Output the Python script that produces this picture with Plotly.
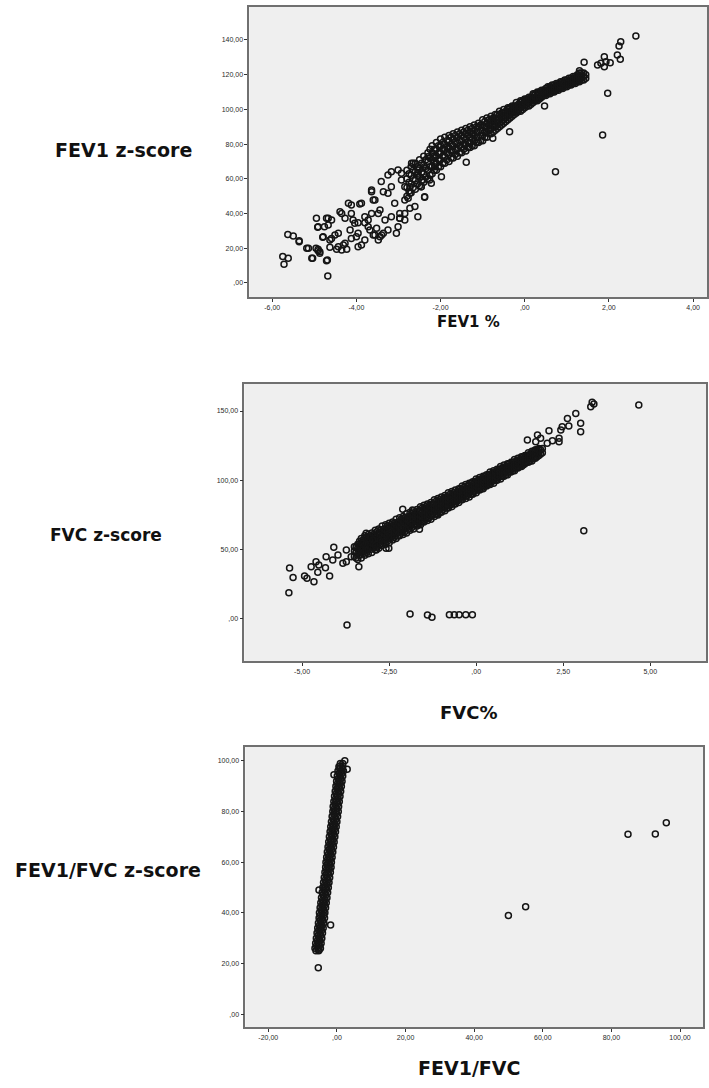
import plotly.graph_objects as go

# ---------------- data ----------------
# Panel 1: FEV1 z-score vs FEV1 %
fev1_sparse_x = [2.64, 2.28, 2.24, 2.20, 2.27, 1.89, 1.93, 1.73, 1.81, 1.89, 2.03, 1.41, 1.30, 1.97, 1.85, 0.73, 0.47, -0.36, -0.76, -1.39,
                 -2.38, -2.73, -2.97, -3.40, -4.68, -4.71, -5.04, -5.18, -5.36, -5.63, -5.50, -5.75, -5.62, -5.72, -4.95, -4.92, -4.76,
                 -4.96, -4.91, -4.87, -4.67, -4.80, -4.59, -4.63, -4.47, -4.31, -4.23, -4.43, -4.35, -4.12, -3.92, -4.27, -4.08, -3.96,
                 -3.80, -4.15, -4.00, -3.88, -3.80, -3.68, -3.56, -3.44, -3.96, -3.64, -3.60, -3.48, -3.41, -3.36, -3.25, -3.17, -3.01,
                 -2.93, -2.85, -2.73, -2.85, -2.65, -2.54, -2.46, -2.38, -2.26, -2.18,
                 -5.36, -5.06, -4.69, -5.14, -4.91, -4.87, -4.91, -4.71, -4.67, -4.59, -4.79, -4.63, -4.51, -4.43, -4.27, -4.35, -4.39,
                 -4.19, -4.12, -4.04, -3.96, -4.12, -3.88, -3.80, -3.72, -3.60, -3.48, -3.36, -3.64, -3.56, -3.44, -3.32, -3.25, -3.64,
                 -3.72, -3.52, -3.25, -3.09, -3.17, -2.97, -2.85, -3.01, -3.05, -3.17, -2.93, -2.85, -2.77, -2.61, -2.54, -2.73, -2.97,
                 -2.69, -2.54, -2.42, -2.38, -2.46, -2.30, -2.14, -1.98, -2.22]
fev1_sparse_y = [142.3, 139.0, 136.5, 131.4, 128.9, 130.4, 127.5, 125.6, 126.6, 124.6, 126.9, 127.1, 122.3, 109.3, 85.3, 64.1, 102.0, 87.2, 83.4, 69.5,
                 49.4, 43.0, 37.3, 27.7, 4.0, 12.8, 14.2, 20.0, 23.8, 28.0, 27.1, 15.2, 14.2, 10.8, 37.3, 32.1, 32.4,
                 20.0, 18.6, 17.1, 37.3, 26.3, 25.7, 20.6, 19.4, 21.9, 19.4, 28.6, 40.1, 44.9, 45.5, 37.3, 36.3, 34.7,
                 34.7, 30.5, 26.7, 21.9, 24.8, 30.5, 27.7, 26.7, 20.9, 52.6, 47.8, 40.1, 58.4, 52.6, 62.2, 55.5, 65.1,
                 59.3, 47.8, 55.5, 40.1, 69.0, 63.2, 55.5, 67.0, 59.3, 72.8,
                 24.4, 14.2, 13.3, 20.0, 19.4, 18.0, 32.4, 37.3, 33.4, 36.3, 26.7, 24.8, 27.7, 20.9, 22.9, 19.0, 41.1,
                 45.9, 40.1, 34.4, 28.6, 25.7, 45.9, 38.2, 32.4, 27.7, 24.8, 28.6, 53.6, 47.8, 42.1, 36.3, 30.5, 40.1,
                 36.3, 31.5, 51.7, 45.9, 38.2, 40.1, 36.3, 32.4, 28.6, 64.1, 63.2, 55.5, 48.8, 44.0, 38.2, 51.7, 37.3,
                 69.0, 65.1, 59.3, 49.7, 55.5, 72.8, 67.0, 61.2, 57.4]
# dense band: (x, [y values])
fev1_band = [
    (-2.80, [50, 55, 60, 65]), (-2.75, [53, 58, 63]), (-2.70, [52, 57, 62, 67]), (-2.65, [55, 60, 65]),
    (-2.60, [54, 59, 64, 69]), (-2.55, [57, 62, 67]), (-2.50, [56, 61, 66, 71]), (-2.45, [59, 64, 69]),
    (-2.40, [58, 63, 68, 73]), (-2.35, [61, 66, 71]), (-2.30, [60, 65, 70, 75]), (-2.25, [62, 67, 72, 77]),
    (-2.20, [63, 67, 71, 75, 79]), (-2.15, [65, 69, 73, 77]), (-2.10, [65, 69, 73, 77, 81]), (-2.05, [67, 71, 75, 79]),
    (-2.00, [67, 71, 75, 79, 83]), (-1.95, [69, 73, 77, 81]), (-1.90, [69, 73, 77, 80, 84]), (-1.85, [71, 75, 78, 82]),
    (-1.80, [70, 74, 78, 82, 85]), (-1.75, [72, 76, 80, 84]), (-1.70, [72, 76, 79, 83, 86]), (-1.65, [74, 77, 81, 85]),
    (-1.60, [73, 77, 81, 84, 87]), (-1.55, [75, 79, 82, 86]), (-1.50, [75, 78, 82, 85, 88]), (-1.45, [77, 80, 84, 87]),
    (-1.40, [76, 80, 83, 86, 89]), (-1.35, [78, 81, 85, 88]), (-1.30, [78, 81, 84, 87, 90]), (-1.25, [79, 83, 86, 89]),
    (-1.20, [79, 82, 85, 88, 91]), (-1.15, [81, 84, 87, 90]), (-1.10, [81, 84, 87, 90, 92]), (-1.05, [82, 85, 88, 91]),
    (-1.00, [82, 85, 88, 91, 94]), (-0.95, [84, 87, 90, 93]), (-0.90, [84, 87, 90, 92, 95]), (-0.85, [86, 88, 91, 94]),
    (-0.80, [86, 89, 91, 94, 96]), (-0.75, [87, 90, 93, 95]), (-0.70, [88, 90, 93, 95, 97]), (-0.65, [89, 92, 94, 97]),
    (-0.60, [90, 92, 95, 97, 99]), (-0.55, [91, 93, 96, 98]), (-0.50, [92, 94, 96, 98, 100]), (-0.45, [93, 95, 97, 99]),
    (-0.40, [94, 96, 98, 100, 101]), (-0.35, [95, 97, 99, 101]), (-0.30, [96, 98, 99, 101, 102]), (-0.25, [97, 99, 100, 102]),
    (-0.20, [98, 99, 101, 102, 104]), (-0.15, [99, 100, 102, 103]), (-0.10, [99, 101, 102, 104, 105]), (-0.05, [100, 102, 103, 105]),
    (0.00, [101, 102, 104, 105, 106]), (0.05, [102, 103, 105, 106]), (0.10, [102, 104, 105, 106, 107]), (0.15, [103, 105, 106, 107]),
    (0.20, [104, 105, 106, 108, 109]), (0.25, [105, 106, 107, 109]), (0.30, [105, 106, 108, 109, 110]), (0.35, [106, 107, 109, 110]),
    (0.40, [107, 108, 109, 110, 111]), (0.45, [108, 109, 110, 111]), (0.50, [108, 109, 110, 111, 112]), (0.55, [109, 110, 111, 113]),
    (0.60, [109, 110, 111, 112, 113]), (0.65, [110, 111, 112, 114]), (0.70, [110, 111, 112, 113, 114]), (0.75, [111, 112, 113, 115]),
    (0.80, [111, 112, 113, 114, 115]), (0.85, [112, 113, 114, 116]), (0.90, [112, 113, 114, 115, 116]), (0.95, [113, 114, 115, 117]),
    (1.00, [113, 114, 115, 116, 117]), (1.05, [114, 115, 116, 118]), (1.10, [114, 115, 116, 117, 118]), (1.15, [115, 116, 117, 119]),
    (1.20, [115, 116, 117, 118, 119]), (1.25, [116, 117, 118, 120]), (1.30, [116, 117, 118, 119, 121]), (1.35, [117, 119, 121]),
    (1.40, [117, 119, 121]), (1.45, [118, 120]),
]
fev1_xticks = [-6, -4, -2, 0, 2, 4]
fev1_xlabels = ["-6,00", "-4,00", "-2,00", ",00", "2,00", "4,00"]
fev1_yticks = [0, 20, 40, 60, 80, 100, 120, 140]
fev1_ylabels = [",00", "20,00", "40,00", "60,00", "80,00", "100,00", "120,00", "140,00"]

# Panel 2: FVC z-score vs FVC%
fvc_sparse_x = [3.33, 3.38, 3.29, 4.67, 2.86, 2.62, 3.00, 3.00, 2.47, 2.66, 2.43, 2.09, 2.38, 2.38, 2.19, 2.04,
                1.76, 1.85, 1.71, 1.47, 3.09, -3.71, -1.90, -1.40, -1.27, -0.77, -0.63, -0.49, -0.30, -0.11,
                -5.36, -5.26, -5.38, -4.93, -4.86, -4.66, -4.74, -4.60, -4.52, -4.55, -4.33, -4.21, -4.09,
                -4.31, -4.12, -3.97, -3.83, -3.73, -3.59, -3.45, -3.37, -3.73, -3.50, -3.26, -3.16, -2.97,
                -2.87, -2.59, -2.51, -2.11, -1.83, -1.63, -1.11]
fvc_sparse_y = [156.3, 155.0, 153.1, 154.3, 148.3, 144.7, 141.1, 135.1, 138.7, 139.2, 136.3, 135.8, 130.3, 127.9, 128.6, 126.7,
                132.7, 130.3, 127.9, 129.1, 63.7, -4.3, 3.6, 2.9, 1.2, 3.1, 3.1, 3.1, 3.1, 3.1,
                36.8, 30.0, 19.0, 31.0, 29.3, 26.9, 37.7, 41.3, 38.9, 33.7, 37.0, 31.0, 51.7,
                44.9, 42.5, 46.2, 40.2, 41.3, 44.9, 47.8, 37.7, 49.8, 52.1, 54.6, 61.8, 57.0,
                49.8, 51.0, 51.0, 79.1, 78.6, 64.7, 75.7]
fvc_band = [
    (-3.50, [45, 49]), (-3.45, [44, 48, 52]), (-3.40, [43, 47, 51, 54]), (-3.35, [46, 49, 53, 56]),
    (-3.30, [44, 48, 51, 55, 58]), (-3.25, [47, 50, 54, 57]), (-3.20, [46, 49, 53, 56, 60]), (-3.15, [48, 52, 55, 59]),
    (-3.10, [47, 51, 54, 58, 61]), (-3.05, [50, 53, 57, 60]), (-3.00, [48, 52, 55, 59, 62]), (-2.95, [51, 54, 58, 61]),
    (-2.90, [50, 53, 57, 60, 64]), (-2.85, [52, 56, 59, 63]), (-2.80, [51, 55, 58, 62, 65]), (-2.75, [54, 57, 61, 64]),
    (-2.70, [53, 56, 60, 63, 67]), (-2.65, [55, 58, 62, 65]), (-2.60, [54, 57, 61, 64, 68]), (-2.55, [56, 60, 63, 67]),
    (-2.50, [55, 59, 62, 66, 69]), (-2.45, [58, 61, 65, 68]), (-2.40, [57, 60, 64, 67, 70]), (-2.35, [59, 62, 66, 69]),
    (-2.30, [58, 62, 65, 68, 72]), (-2.25, [60, 64, 67, 70]), (-2.20, [60, 63, 66, 70, 73]), (-2.15, [62, 65, 68, 72]),
    (-2.10, [61, 64, 68, 71, 74]), (-2.05, [63, 67, 70, 73]), (-2.00, [62, 66, 69, 72, 76]), (-1.95, [65, 68, 71, 74]),
    (-1.90, [64, 67, 70, 74, 77]), (-1.85, [66, 69, 73, 76]), (-1.80, [65, 68, 72, 75, 78]), (-1.75, [68, 71, 74, 77]),
    (-1.70, [67, 70, 73, 76, 79]), (-1.65, [69, 72, 75, 78]), (-1.60, [68, 71, 74, 78, 81]), (-1.55, [70, 73, 77, 80]),
    (-1.50, [70, 73, 76, 79, 82]), (-1.45, [72, 75, 78, 81]), (-1.40, [71, 74, 77, 80, 83]), (-1.35, [73, 76, 79, 82]),
    (-1.30, [72, 75, 78, 81, 84]), (-1.25, [75, 78, 80, 83]), (-1.20, [74, 77, 80, 83, 86]), (-1.15, [76, 79, 82, 85]),
    (-1.10, [75, 78, 81, 84, 87]), (-1.05, [77, 80, 83, 86]), (-1.00, [77, 80, 82, 85, 88]), (-0.95, [79, 82, 84, 87]),
    (-0.90, [78, 81, 84, 87, 89]), (-0.85, [80, 83, 86, 88]), (-0.80, [80, 82, 85, 88, 91]), (-0.75, [82, 85, 87, 90]),
    (-0.70, [81, 84, 87, 89, 92]), (-0.65, [83, 86, 88, 91]), (-0.60, [83, 85, 88, 90, 93]), (-0.55, [85, 87, 90, 92]),
    (-0.50, [84, 87, 89, 92, 94]), (-0.45, [86, 89, 91, 94]), (-0.40, [86, 88, 91, 93, 96]), (-0.35, [88, 90, 92, 95]),
    (-0.30, [87, 90, 92, 94, 97]), (-0.25, [89, 91, 94, 96]), (-0.20, [88, 91, 93, 96, 98]), (-0.15, [90, 93, 95, 98]),
    (-0.10, [90, 92, 95, 97, 99]), (-0.05, [92, 94, 96, 99]), (0.00, [91, 94, 96, 98, 101]), (0.05, [93, 95, 98, 100]),
    (0.10, [93, 95, 97, 100, 102]), (0.15, [94, 97, 99, 101]), (0.20, [94, 96, 99, 101, 103]), (0.25, [96, 98, 100, 103]),
    (0.30, [96, 98, 100, 102, 104]), (0.35, [97, 99, 102, 104]), (0.40, [97, 99, 101, 104, 106]), (0.45, [99, 101, 103, 105]),
    (0.50, [98, 101, 103, 105, 107]), (0.55, [100, 102, 105, 106]), (0.60, [100, 102, 104, 106, 108]), (0.65, [102, 104, 106, 108]),
    (0.70, [101, 103, 105, 108, 110]), (0.75, [103, 105, 107, 109]), (0.80, [103, 105, 107, 109, 111]), (0.85, [104, 107, 108, 110]),
    (0.90, [104, 106, 108, 110, 112]), (0.95, [106, 108, 110, 112]), (1.00, [106, 108, 110, 111, 113]), (1.05, [107, 109, 111, 113]),
    (1.10, [107, 109, 111, 113, 115]), (1.15, [109, 111, 112, 114]), (1.20, [109, 110, 112, 114, 116]), (1.25, [110, 112, 114, 115]),
    (1.30, [110, 112, 114, 115, 117]), (1.35, [111, 113, 115, 117]), (1.40, [112, 113, 115, 117, 118]), (1.45, [113, 115, 116, 118]),
    (1.50, [113, 115, 116, 118, 120]), (1.55, [114, 116, 118, 119]), (1.60, [114, 116, 118, 119, 121]), (1.65, [116, 117, 119, 121]),
    (1.70, [116, 117, 119, 121, 122]), (1.75, [117, 119, 120, 122]), (1.80, [118, 120, 122, 123]), (1.85, [119, 122]),
    (1.90, [120, 123]),
]
fvc_xticks = [-5, -2.5, 0, 2.5, 5]
fvc_xlabels = ["-5,00", "-2,50", ",00", "2,50", "5,00"]
fvc_yticks = [0, 50, 100, 150]
fvc_ylabels = [",00", "50,00", "100,00", "150,00"]

# Panel 3: FEV1/FVC z-score vs FEV1/FVC
ratio_sparse_x = [-5.43, -5.23, -1.84, -5.23, 49.98, 55.0, 84.84, 92.8, 96.0, 0.58, 3.0, -0.87, 2.3]
ratio_sparse_y = [18.3, 25.3, 35.2, 49.0, 38.9, 42.4, 71.0, 71.1, 75.6, 97.7, 96.7, 94.5, 100.1]
# dense band: (y, [x values])
ratio_band = [
    (25, [-6.1, -5.3]), (26, [-6.4, -5.6, -4.8]), (27, [-5.9, -5.1]), (28, [-6.2, -5.4, -4.6]),
    (29, [-5.7, -4.9]), (30, [-6.0, -5.2, -4.4]), (31, [-5.5, -4.7]), (32, [-5.8, -5.0, -4.2]),
    (33, [-5.3, -4.5]), (34, [-5.6, -4.8, -4.0]), (35, [-5.1, -4.3]), (36, [-5.4, -4.6, -3.8]),
    (37, [-4.9, -4.1]), (38, [-5.2, -4.4, -3.6]), (39, [-4.8, -3.9]), (40, [-5.1, -4.3, -3.5]),
    (41, [-4.6, -3.8]), (42, [-4.9, -4.1, -3.3]), (43, [-4.4, -3.6]), (44, [-4.7, -3.9, -3.1]),
    (45, [-4.2, -3.4]), (46, [-4.5, -3.7, -2.9]), (47, [-4.0, -3.2]), (48, [-4.3, -3.5, -2.7]),
    (49, [-3.8, -3.0]), (50, [-4.1, -3.3, -2.5]), (51, [-3.6, -2.8]), (52, [-3.9, -3.1, -2.3]),
    (53, [-3.4, -2.6]), (54, [-3.7, -2.9, -2.1]), (55, [-3.2, -2.4]), (56, [-3.5, -2.7, -1.9]),
    (57, [-3.0, -2.2]), (58, [-3.3, -2.5, -1.7]), (59, [-2.9, -2.0]), (60, [-3.2, -2.4, -1.6]),
    (61, [-2.7, -1.9]), (62, [-3.0, -2.2, -1.4]), (63, [-2.5, -1.7]), (64, [-2.8, -2.0, -1.2]),
    (65, [-2.3, -1.5]), (66, [-2.6, -1.8, -1.0]), (67, [-2.1, -1.3]), (68, [-2.4, -1.6, -0.8]),
    (69, [-1.9, -1.1]), (70, [-2.2, -1.4, -0.6]), (71, [-1.7, -0.9]), (72, [-2.0, -1.2, -0.4]),
    (73, [-1.5, -0.7]), (74, [-1.8, -1.0, -0.2]), (75, [-1.3, -0.5]), (76, [-1.6, -0.8, 0.0]),
    (77, [-1.1, -0.3]), (78, [-1.4, -0.6, 0.2]), (79, [-0.9, -0.1]), (80, [-1.2, -0.4, 0.4]),
    (81, [-0.8, 0.0]), (82, [-1.1, -0.3, 0.5]), (83, [-0.6, 0.2]), (84, [-0.9, -0.1, 0.7]),
    (85, [-0.4, 0.4]), (86, [-0.7, 0.1, 0.9]), (87, [-0.2, 0.6]), (88, [-0.5, 0.3, 1.1]),
    (89, [0.0, 0.8]), (90, [-0.3, 0.5, 1.3]), (91, [0.2, 1.0]), (92, [-0.1, 0.7, 1.5]),
    (93, [0.4, 1.2]), (94, [0.1, 0.9, 1.7]), (95, [0.6, 1.4]), (96, [0.3, 1.1, 1.9]),
    (97, [0.8, 1.6]), (98, [0.9, 1.7]), (99, [1.0, 1.7]),
]
ratio_xticks = [-20, 0, 20, 40, 60, 80, 100]
ratio_xlabels = ["-20,00", ",00", "20,00", "40,00", "60,00", "80,00", "100,00"]
ratio_yticks = [0, 20, 40, 60, 80, 100]
ratio_ylabels = [",00", "20,00", "40,00", "60,00", "80,00", "100,00"]

# ---------------- figure ----------------
W, H = 709, 1088
fig = go.Figure()

MARK = dict(symbol="circle-open", size=6, color="#151515", line=dict(width=1.5, color="#151515"))


def add(xs, ys, ax):
    fig.add_trace(go.Scatter(x=xs, y=ys, mode="markers", marker=MARK, showlegend=False,
                             xaxis="x" + ax, yaxis="y" + ax, hoverinfo="x+y"))


def band_xy(band, vertical=False):
    xs, ys = [], []
    for key, vals in band:
        for v in vals:
            if vertical:
                xs.append(v); ys.append(key)
            else:
                xs.append(key); ys.append(v)
    return xs, ys


bx, by = band_xy(fev1_band)
add(bx, by, "")
add(fev1_sparse_x, fev1_sparse_y, "")
bx, by = band_xy(fvc_band)
add(bx, by, "2")
add(fvc_sparse_x, fvc_sparse_y, "2")
bx, by = band_xy(ratio_band, vertical=True)
add(bx, by, "3")
add(ratio_sparse_x, ratio_sparse_y, "3")


def px_x(p):
    return p / W


def px_y(p):
    return 1 - p / H


TICKFONT = dict(family="Liberation Sans, Arial, sans-serif", size=7, color="#2a2a2a")


def axis(domain, rng, vals, labels, anchor):
    return dict(domain=domain, range=rng, tickmode="array", tickvals=vals, ticktext=labels,
                showgrid=False, zeroline=False, showline=True, mirror=True,
                linecolor="#707070", linewidth=1.6, ticks="outside", ticklen=3, tickwidth=1,
                tickcolor="#333333", tickfont=TICKFONT, anchor=anchor, fixedrange=True)


fig.update_layout(
    width=W, height=H, margin=dict(l=0, r=0, t=0, b=0),
    paper_bgcolor="white", plot_bgcolor="#efefef",
    xaxis=axis([px_x(250), 1.0], [-6.545, 4.33], fev1_xticks, fev1_xlabels, "y"),
    yaxis=axis([px_y(297), px_y(7)], [-8.07, 159.0], fev1_yticks, fev1_ylabels, "x"),
    xaxis2=axis([px_x(245), px_x(708)], [-6.66, 6.60], fvc_xticks, fvc_xlabels, "y2"),
    yaxis2=axis([px_y(661), px_y(384)], [-30.3, 169.5], fvc_yticks, fvc_ylabels, "x2"),
    xaxis3=axis([px_x(246), px_x(705)], [-26.7, 106.7], ratio_xticks, ratio_xlabels, "y3"),
    yaxis3=axis([px_y(1027), px_y(747)], [-5.1, 105.5], ratio_yticks, ratio_ylabels, "x3"),
)

titles = [
    ("FEV1 z-score", 124, 150, 19),
    ("FEV1 %", 470, 322, 15),
    ("FVC z-score", 106, 535, 17),
    ("FVC%", 470, 712, 18),
    ("FEV1/FVC z-score", 108, 870, 19),
    ("FEV1/FVC", 470, 1068, 19),
]
for text, cx, cy, fs in titles:
    fig.add_annotation(text=text, x=px_x(cx), y=px_y(cy), xref="paper", yref="paper",
                       showarrow=False, xanchor="center", yanchor="middle",
                       font=dict(family="DejaVu Sans, sans-serif", size=fs, color="#111111", weight="bold"))

fig.write_html("out.html", config={"displayModeBar": False},
               post_script="document.body.style.margin='0';document.body.style.overflow='hidden';")
